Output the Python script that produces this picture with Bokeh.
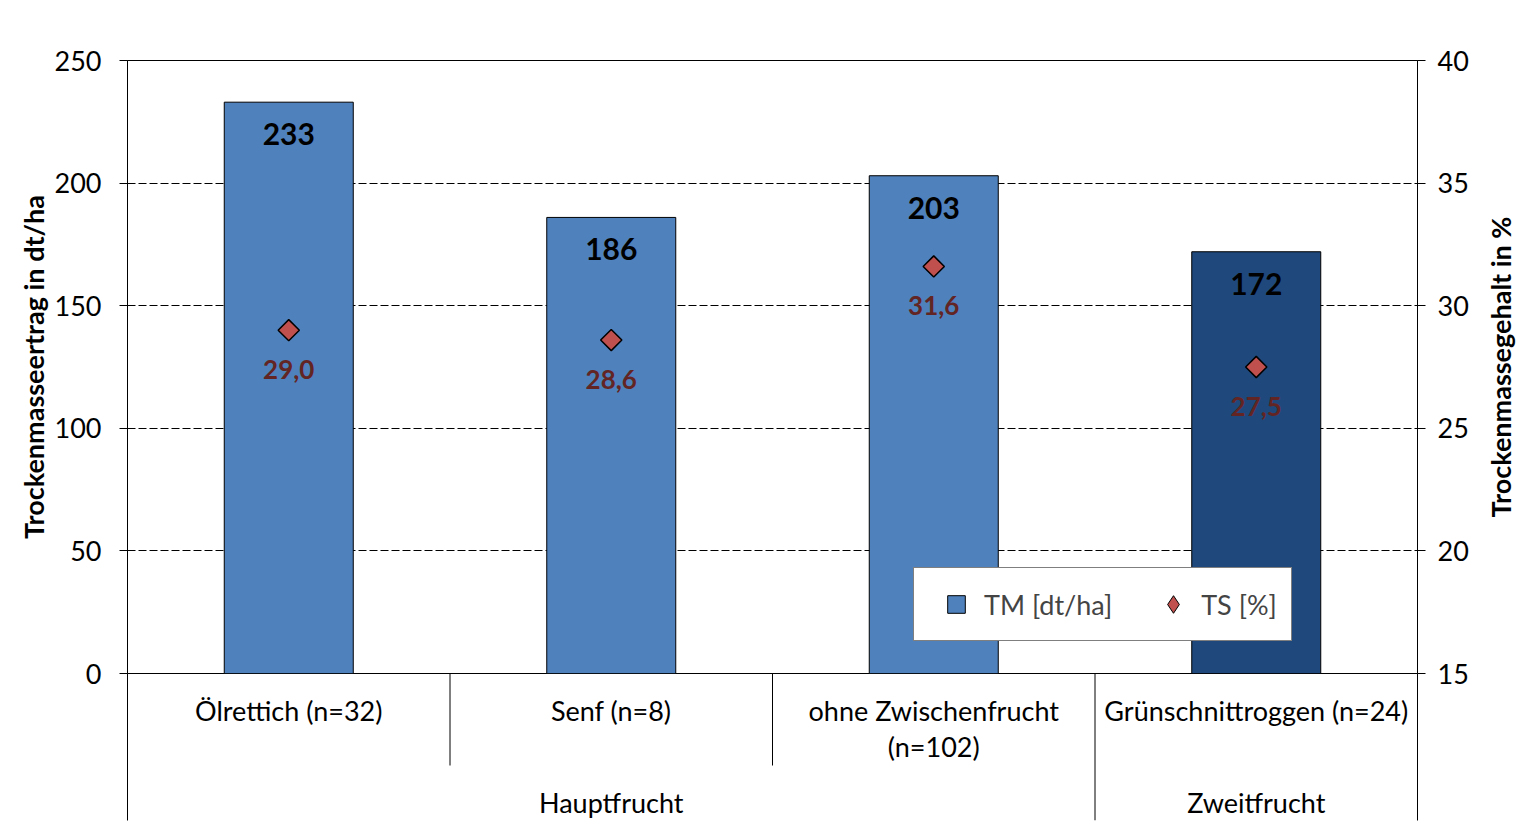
from bokeh.plotting import figure
from bokeh.layouts import column, row
from bokeh.models import (ColumnDataSource, Range1d, LinearAxis, FixedTicker,
                          Legend, LegendItem)
from bokeh.core.properties import value
from bokeh.embed import file_html
from bokeh.resources import INLINE
import math

# ---------------- data ----------------
categories = ["Ölrettich (n=32)", "Senf (n=8)", "ohne Zwischenfrucht\n(n=102)", "Grünschnittroggen (n=24)"]
group_names = ["Hauptfrucht", "Zweitfrucht"]
group_spans = [(0, 3), (3, 4)]            # category index span of each group
tm_values = [233, 186, 203, 172]          # TM [dt/ha]
ts_values = [29.0, 28.6, 31.6, 27.5]      # TS [%]
bar_colors = ["#4F81BD", "#4F81BD", "#4F81BD", "#1F497D"]
left_ticks = [0, 50, 100, 150, 200, 250]
right_ticks = [15, 20, 25, 30, 35, 40]
left_title = "Trockenmasseertrag in dt/ha"
right_title = "Trockenmassegehalt in %"

FONT = "Lato"
FS = "27px"

# ---------------- layout ----------------
W, H = 1525, 828
LEFT, TOP = 127, 60
FRAME_RIGHT = 1417
W1 = 1477                      # chart column width; right strip holds the right title
FRAME_BOTTOM = 673
H1 = 692                       # main chart canvas (frame 60..673)
OVERLAP = H1 - FRAME_BOTTOM    # table canvas starts right at the frame bottom
H2 = H - FRAME_BOTTOM
frame_h = FRAME_BOTTOM - TOP
upp = 250 / frame_h
r_upp = 25 / frame_h

n = len(categories)
xs = [i + 0.5 for i in range(n)]
x_range = Range1d(0, n)

src = ColumnDataSource(dict(
    x=xs, tm=tm_values, ts=ts_values, color=bar_colors,
    tm_lbl=[str(v) for v in tm_values],
    ts_lbl=[f"{v:.1f}".replace(".", ",") for v in ts_values],
    tm_lbl_y=[v - 32 * upp for v in tm_values],
    ts_lbl_y=[v - 39 * r_upp for v in ts_values],
    cat=categories,
))

p = figure(width=W1, height=H1, output_backend="svg", toolbar_location=None,
           x_range=x_range, y_range=Range1d(0, 250),
           min_border_left=LEFT, min_border_right=W1 - FRAME_RIGHT,
           min_border_top=TOP, min_border_bottom=H1 - FRAME_BOTTOM,
           x_axis_location=None, y_axis_location=None)
p.outline_line_color = "black"
p.outline_line_width = 1
p.background_fill_color = "white"
p.border_fill_color = "white"
p.extra_y_ranges = {"right": Range1d(15, 40)}

la = LinearAxis(ticker=FixedTicker(ticks=left_ticks), axis_label=left_title)
ra = LinearAxis(ticker=FixedTicker(ticks=right_ticks), y_range_name="right")
for ax, so in ((la, 18), (ra, 12)):
    ax.axis_line_color = "black"
    ax.axis_line_width = 1
    ax.major_tick_line_color = "black"
    ax.major_tick_out = 8
    ax.major_tick_in = 0
    ax.minor_tick_line_color = None
    ax.major_label_text_font = FONT
    ax.major_label_text_font_size = FS
    ax.major_label_text_color = "black"
    ax.major_label_standoff = so
la.axis_label_text_font = FONT
la.axis_label_text_font_size = FS
la.axis_label_text_font_style = "bold"
la.axis_label_text_color = "black"
la.axis_label_standoff = 2
p.add_layout(la, "left")
p.add_layout(ra, "right")

p.xgrid.visible = False
p.ygrid.ticker = FixedTicker(ticks=[50, 100, 150, 200])
p.ygrid.grid_line_color = "black"
p.ygrid.grid_line_dash = "8 3"
p.ygrid.grid_line_width = 1

# bars
bars = p.vbar(x="x", top="tm", bottom=0, width=0.4, fill_color="color",
              line_color="black", line_width=1, source=src)
p.text(x="x", y="tm_lbl_y", text="tm_lbl", source=src, text_align="center",
       text_baseline="middle", text_font=value(FONT), text_font_style="bold",
       text_font_size="30px", text_color="black")

# TS markers
pts = p.scatter(x="x", y="ts", y_range_name="right", source=src, marker="square",
                angle=math.pi / 4, size=15, fill_color="#C0504D", line_color="black",
                line_width=1.5)
p.text(x="x", y="ts_lbl_y", y_range_name="right", text="ts_lbl", source=src,
       text_align="center", text_baseline="middle", text_font=value(FONT),
       text_font_style="bold", text_font_size="26px", text_color="#632523")

# legend (renderers with one point outside the visible range, just for legend glyphs)
lg_tm = p.scatter(x=[-10], y=[-1000], marker="square", fill_color="#4F81BD",
                  line_color="black", line_width=1)
lg_ts = p.scatter(x=[-10], y=[-1000], marker="diamond", fill_color="#C0504D",
                  line_color="black", line_width=1)
legend = Legend(items=[LegendItem(label="TM [dt/ha]", renderers=[lg_tm]),
                       LegendItem(label="TS [%]", renderers=[lg_ts])],
                orientation="horizontal", location=(913 - LEFT, FRAME_BOTTOM - 641),
                glyph_width=56, glyph_height=44, label_standoff=0, padding=14,
                spacing=33,
                label_text_font=FONT, label_text_font_size=FS,
                border_line_color="black", border_line_width=1,
                background_fill_color="white", background_fill_alpha=1.0, margin=0)
p.add_layout(legend, "center")

# ---------------- category table ----------------
q = figure(width=W1, height=H2, output_backend="svg", toolbar_location=None,
           x_range=x_range, y_range=Range1d(H2 - 8, 0),
           min_border_left=LEFT, min_border_right=W1 - FRAME_RIGHT,
           min_border_top=0, min_border_bottom=8,
           x_axis_location=None, y_axis_location=None,
           margin=(-OVERLAP, 0, 0, 0))
q.outline_line_color = None
q.border_fill_color = None
q.background_fill_color = None
q.xgrid.visible = False
q.ygrid.visible = False
for side in ("left", "right"):
    a = LinearAxis(ticker=FixedTicker(ticks=[]), major_label_text_font_size="0px")
    a.axis_line_color = "black"
    a.major_tick_line_color = None
    a.minor_tick_line_color = None
    q.add_layout(a, side)

q.text(x="x", y=20, text="cat", source=src, text_align="center",
       text_baseline="top", text_font=value(FONT), text_font_size=FS,
       text_color="black", text_line_height=1.1)

sep_x = [1, 2, 3]
sep_len = [92, 92, H2 - 8]
q.segment(x0=sep_x, y0=[0, 0, 0], x1=sep_x, y1=sep_len, line_color="black", line_width=1)

group_x = [(a + b) / 2 for a, b in group_spans]
q.text(x=group_x, y=[129] * 2, text=group_names, text_align="center",
       text_baseline="middle", text_font=value(FONT), text_font_size=FS,
       text_color="black")

# ---------------- right title strip ----------------
r = figure(width=W - W1, height=H, output_backend="svg", toolbar_location=None,
           x_range=Range1d(W1, W), y_range=Range1d(0, H),
           min_border_left=0, min_border_right=0, min_border_top=0, min_border_bottom=0,
           x_axis_location=None, y_axis_location=None)
r.outline_line_color = None
r.border_fill_color = None
r.background_fill_color = None
r.xgrid.visible = False
r.ygrid.visible = False
r.text(x=[1500], y=[H - (TOP + FRAME_BOTTOM) / 2], text=[right_title], angle=math.pi / 2,
       text_align="center", text_baseline="middle", text_font=value(FONT),
       text_font_style="bold", text_font_size=FS, text_color="black")

layout = row(column(p, q, spacing=0), r, spacing=0)
open("out.html", "w").write(file_html(layout, INLINE))
